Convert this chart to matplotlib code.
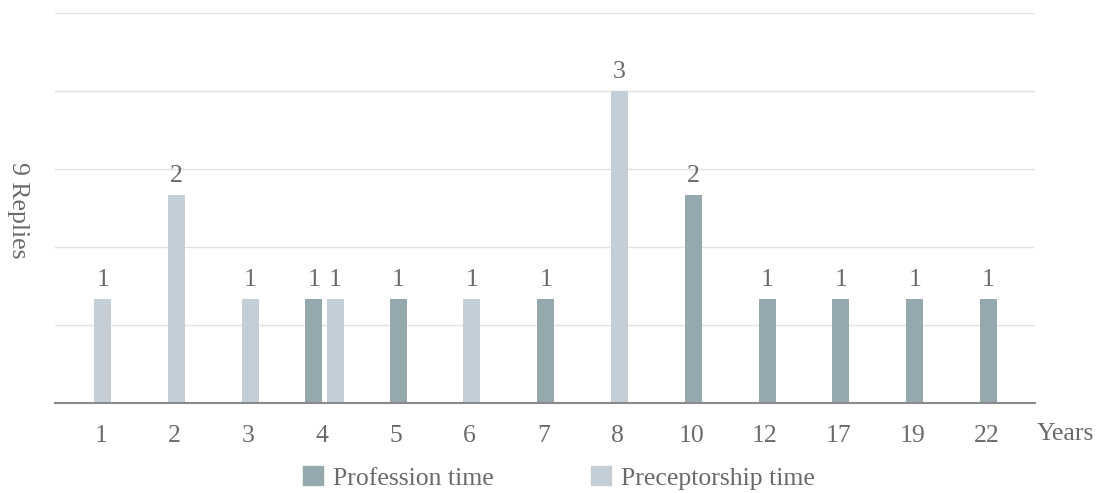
import matplotlib.pyplot as plt
import numpy as np
from matplotlib.patches import Patch

years = ['1', '2', '3', '4', '5', '6', '7', '8', '10', '12', '17', '19', '22']
profession = [0, 0, 0, 1, 1, 0, 1, 0, 2, 1, 1, 1, 1]
preceptorship = [1, 2, 1, 1, 0, 1, 0, 3, 0, 0, 0, 0, 0]

c_prof = '#95a8ad'
c_prec = '#c3ced7'
txt = '#6a6a6a'
fs = 18.5
plt.rcParams['font.family'] = ['Liberation Serif', 'DejaVu Serif']

fig = plt.figure(figsize=(11.05, 4.93), dpi=100)
ax = fig.add_axes([55 / 1105, 90 / 493, 980 / 1105, 390 / 493])

w = 0.23
off = 0.145
shift = 0.03
x = np.arange(len(years))
for i in x:
    p, q = profession[i], preceptorship[i]
    # side by side only when both series have a value
    if p and q:
        xp, xq = i - off + shift, i + off + shift
    else:
        xp = xq = i + shift
    if p:
        ax.bar(xp, p, width=w, color=c_prof, zorder=3)
        ax.text(xp, p + 0.08, str(p), ha='center', va='bottom', fontsize=fs, color=txt)
    if q:
        ax.bar(xq, q, width=w, color=c_prec, zorder=3)
        ax.text(xq, q + 0.08, str(q), ha='center', va='bottom', fontsize=fs, color=txt)

ax.set_xlim(-0.62, 12.66)
ax.set_ylim(0, 3.75)
ax.set_yticks(np.arange(0, 3.76, 0.75))
ax.yaxis.grid(True, color='#e2e2e2', linewidth=1, zorder=0)
ax.tick_params(axis='y', length=0, labelleft=False)
ax.set_xticks(x)
ax.set_xticklabels(years, fontsize=fs, color=txt)
ax.tick_params(axis='x', length=0, pad=16)
for s in ['top', 'right', 'left']:
    ax.spines[s].set_visible(False)
ax.spines['bottom'].set_color('#8a8a8a')
ax.spines['bottom'].set_linewidth(1.5)
ax.spines['bottom'].set_zorder(4)

fig.text(18 / 1105, 1 - 210 / 493, '9 Replies', rotation=270, ha='center', va='center',
         fontsize=fs, color=txt)
fig.text(1065 / 1105, 1 - 434 / 493, 'Years', ha='center', va='center', fontsize=fs, color=txt)

handles = [Patch(color=c_prof), Patch(color=c_prec)]
fig.legend(handles, ['Profession time', 'Preceptorship time'], loc='center',
           bbox_to_anchor=(0.506, 1 - 478 / 493), ncol=2, frameon=False, fontsize=fs,
           labelcolor=txt, handlelength=0.75, handleheight=0.75, handletextpad=0.4,
           columnspacing=3.8)

fig.savefig('out.png', dpi=100)
